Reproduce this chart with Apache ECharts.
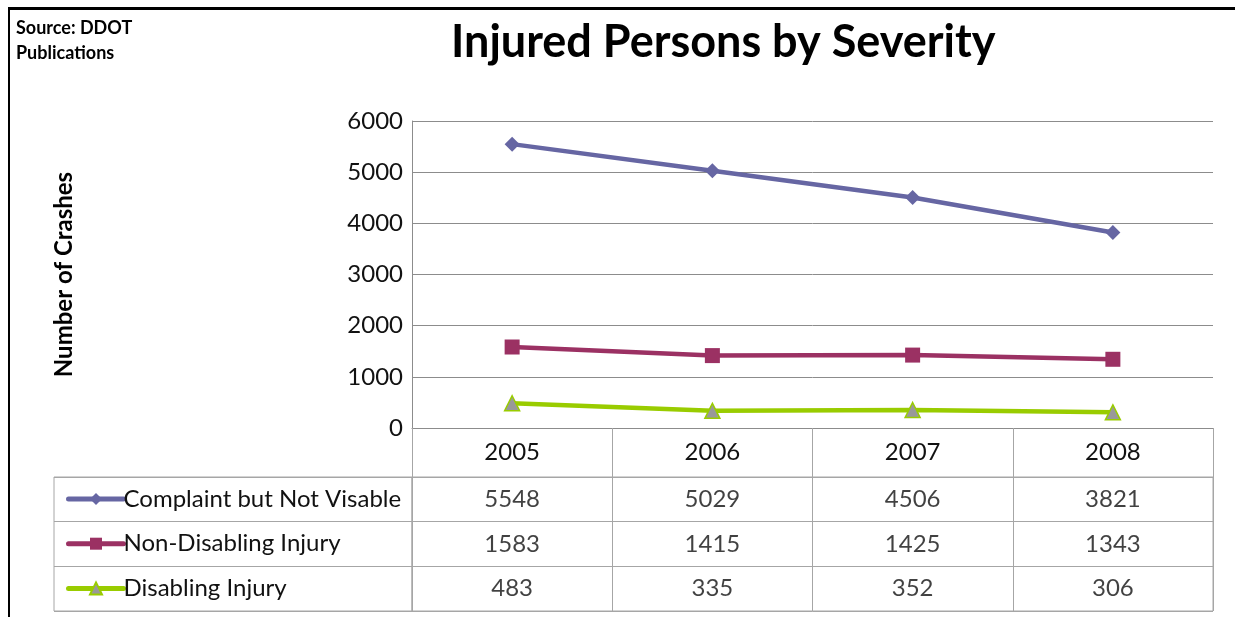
<!DOCTYPE html>
<html>
<head>
<meta charset="utf-8">
<script src="https://cdn.jsdelivr.net/npm/echarts@6/dist/echarts.min.js"></script>
<style>
  html, body { margin: 0; padding: 0; background: #fff; }
  #wrap { position: relative; width: 1235px; height: 617px; overflow: hidden; }
  #frame { position: absolute; left: 8px; top: 7px; width: 1300px; height: 700px;
           border-top: 3px solid #000; border-left: 2px solid #000; }
  #main { position: absolute; left: 0; top: 0; width: 1235px; height: 617px; }
</style>
</head>
<body>
<div id="wrap">
  <div id="frame"></div>
  <div id="main"></div>
</div>
<script>
// data
var years = ['2005', '2006', '2007', '2008'];
var seriesNames = ['Complaint but Not Visable', 'Non-Disabling Injury', 'Disabling Injury'];
var complaint = [5548, 5029, 4506, 3821];
var nonDisabling = [1583, 1415, 1425, 1343];
var disabling = [483, 335, 352, 306];
var yTicks = { min: 0, max: 6000, interval: 1000 };

var allValues = [complaint, nonDisabling, disabling];
var font = 'Lato, "Open Sans", sans-serif';

// cells of the data table under the chart
var tableCells = [];
allValues.forEach(function (vals, r) {
  vals.forEach(function (v, c) {
    tableCells.push({ value: [years[c], seriesNames[r]], text: String(v) });
  });
});

var myChart = echarts.init(document.getElementById('main'));
var option = {
  backgroundColor: 'transparent',
  textStyle: { fontFamily: font },
  title: [
    {
      text: 'Injured Persons by Severity',
      left: 451, top: 20, padding: 0,
      textStyle: { fontFamily: font, fontSize: 45, fontWeight: 'bold', color: '#000' }
    },
    {
      text: 'Source: DDOT\nPublications',
      left: 16, top: 16, padding: 0,
      textStyle: { fontFamily: font, fontSize: 18, fontWeight: 'bold', color: '#000', lineHeight: 25 }
    }
  ],
  legend: {
    orient: 'vertical',
    left: 61, top: 480,
    itemWidth: 55, itemHeight: 15,
    itemGap: 16.7,
    data: seriesNames,
    lineStyle: { width: 5, cap: 'round' },
    textStyle: { fontFamily: font, fontSize: 24, color: '#111', lineHeight: 28, padding: [0, 0, 0, -5] },
    selectedMode: false
  },
  grid: [
    { left: 412, top: 121, width: 801, height: 307 },
    { left: 412, top: 477, width: 801, height: 134, show: true, borderColor: '#a6a6a6', borderWidth: 1 },
    { left: 54, top: 477, width: 358, height: 134, show: true, borderColor: '#a6a6a6', borderWidth: 1 }
  ],
  xAxis: [
    {
      gridIndex: 0, type: 'category', data: years, boundaryGap: true,
      axisLine: { lineStyle: { color: '#8c8c8c', width: 1 } },
      axisTick: { show: true, length: 49, lineStyle: { color: '#a6a6a6' } },
      axisLabel: { fontFamily: font, fontSize: 24, color: '#111', margin: 12 }
    },
    {
      gridIndex: 1, type: 'category', data: years, boundaryGap: true,
      axisLine: { show: false }, axisTick: { show: false }, axisLabel: { show: false },
      splitLine: { show: true, lineStyle: { color: '#a6a6a6' } }
    },
    {
      gridIndex: 2, type: 'category', data: [''], boundaryGap: true,
      axisLine: { show: false }, axisTick: { show: false }, axisLabel: { show: false }
    }
  ],
  yAxis: [
    {
      gridIndex: 0, type: 'value',
      min: yTicks.min, max: yTicks.max, interval: yTicks.interval,
      name: 'Number of Crashes', nameLocation: 'middle', nameGap: 336, nameRotate: 90,
      nameTextStyle: { fontFamily: font, fontSize: 24, fontWeight: 'bold', color: '#000' },
      axisLine: { show: true, lineStyle: { color: '#8c8c8c' } },
      axisTick: { show: false },
      axisLabel: {
        fontFamily: font, fontSize: 24, color: '#111', margin: 9,
        formatter: function (v) { return String(v); }
      },
      splitLine: { show: true, lineStyle: { color: '#8c8c8c', width: 1 } }
    },
    {
      gridIndex: 1, type: 'category', data: seriesNames, inverse: true, boundaryGap: true,
      axisLine: { show: false }, axisTick: { show: false }, axisLabel: { show: false },
      splitLine: { show: true, lineStyle: { color: '#a6a6a6' } }
    },
    {
      gridIndex: 2, type: 'category', data: seriesNames, inverse: true, boundaryGap: true,
      axisLine: { show: false }, axisTick: { show: false }, axisLabel: { show: false },
      splitLine: { show: true, lineStyle: { color: '#a6a6a6' } }
    }
  ],
  series: [
    {
      name: seriesNames[0], type: 'line', data: complaint,
      symbol: 'diamond', symbolSize: 15,
      lineStyle: { color: '#6666a3', width: 4.5 },
      itemStyle: { color: '#6666a3' }
    },
    {
      name: seriesNames[1], type: 'line', data: nonDisabling,
      symbol: 'rect', symbolSize: 15,
      lineStyle: { color: '#9b3163', width: 4.5 },
      itemStyle: { color: '#9b3163' }
    },
    {
      name: seriesNames[2], type: 'line', data: disabling,
      symbol: 'triangle', symbolSize: 15,
      lineStyle: { color: '#99cc00', width: 4.5 },
      itemStyle: { color: '#999999', borderColor: '#99cc00', borderWidth: 1.5 }
    },
    {
      name: 'table', type: 'scatter', xAxisIndex: 1, yAxisIndex: 1,
      symbolSize: 0, silent: true,
      data: tableCells,
      label: {
        show: true, position: 'inside',
        formatter: function (p) { return p.data.text; },
        fontFamily: font, fontSize: 24, color: '#111'
      }
    }
  ]
};
myChart.setOption(option);
</script>
</body>
</html>
